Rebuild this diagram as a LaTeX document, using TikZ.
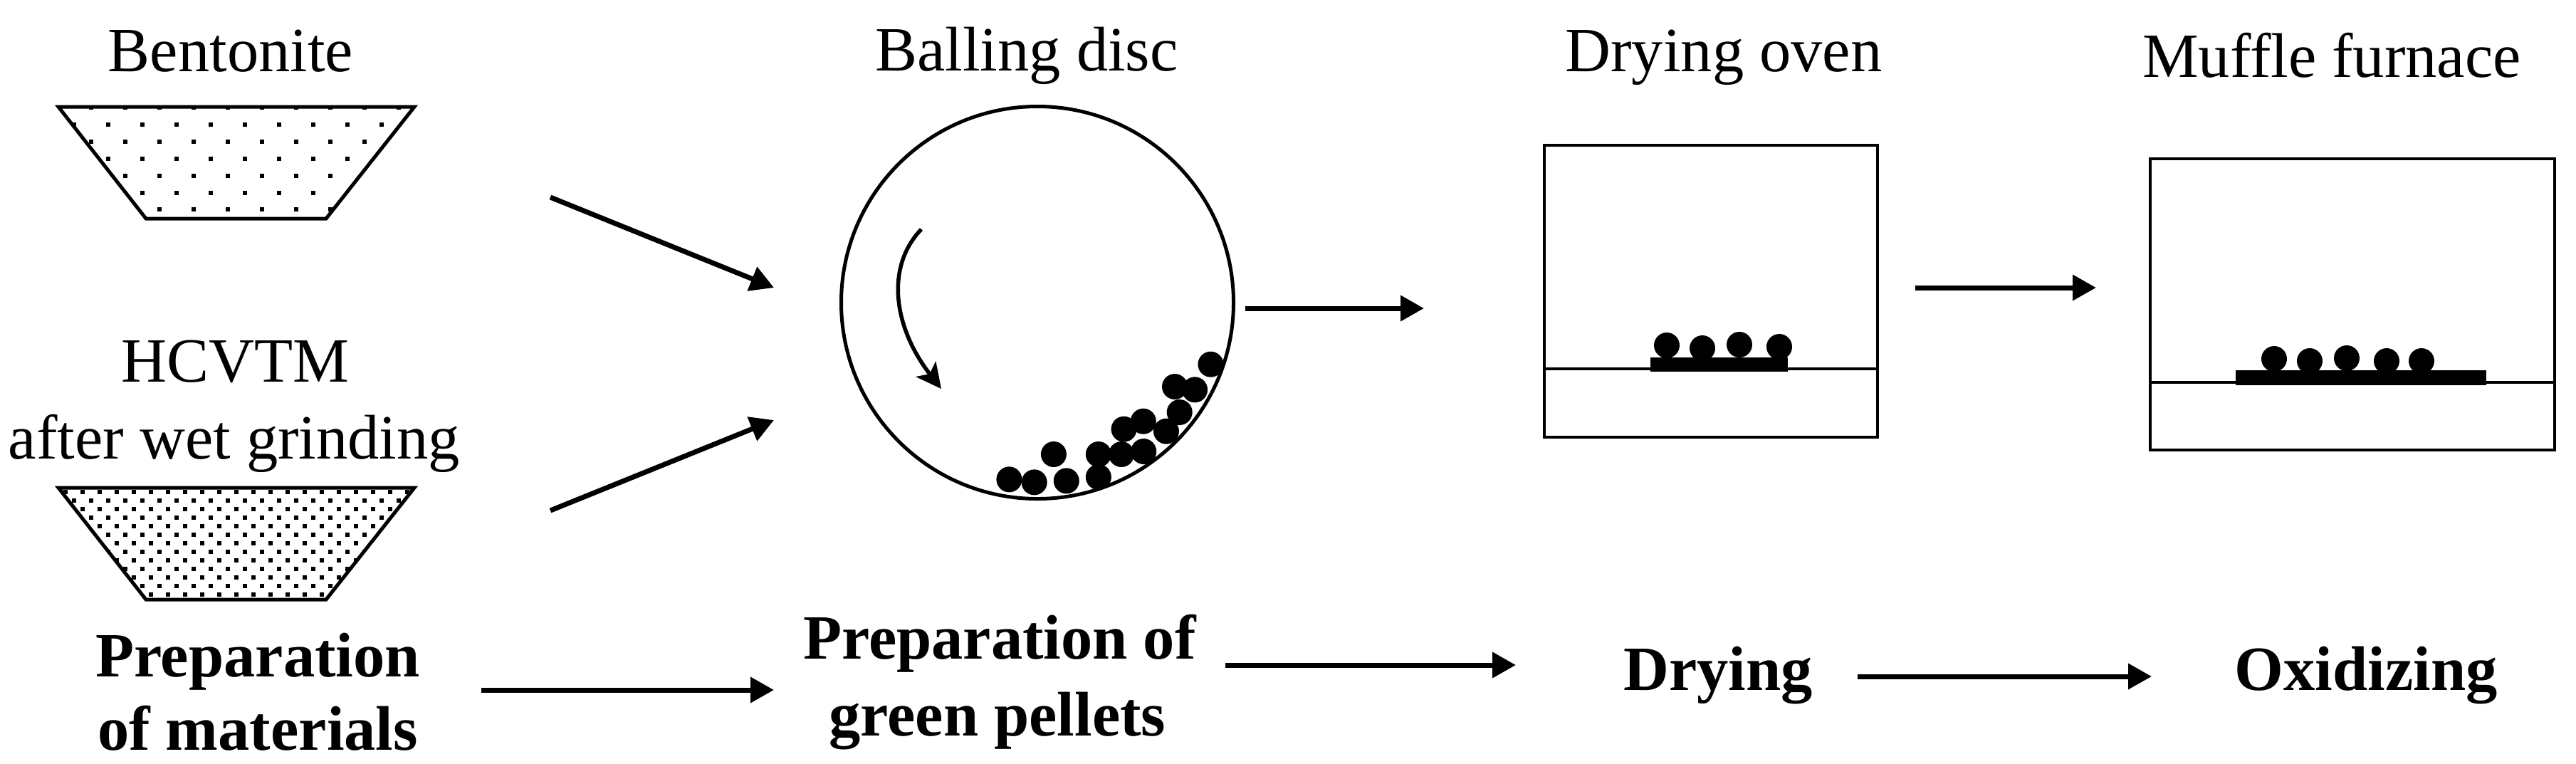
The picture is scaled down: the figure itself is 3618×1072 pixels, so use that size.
\documentclass[tikz,border=0pt]{standalone}
\usepackage{fontspec}
\setmainfont{Liberation Serif}
\usetikzlibrary{arrows.meta}
\tikzset{
  lbl/.style={anchor=base,inner sep=0pt,font=\fontsize{17.7pt}{20pt}\selectfont},
  blbl/.style={lbl,font=\fontsize{17.7pt}{20pt}\selectfont\bfseries},
  flow/.style={line width=1.4pt,-{Triangle[length=6.6pt,width=7pt]}},
  turn/.style={line width=1.1pt,-{Stealth[length=7pt,width=7pt,inset=1.7pt]}},
  vessel/.style={line width=1pt,line join=miter},
  outl/.style={line width=0.9pt},
  pellet/.style={fill=black,draw=none},
}
\begin{document}
\begin{tikzpicture}[x=0.2pt,y=-0.2pt]
\useasboundingbox (0,0) rectangle (3618,1072);
% labels
\node[lbl] (bent) at (324,100) {Bentonite};
\node[lbl] (hcv) at (330,536) {HCVTM};
\node[lbl] (wet) at (329,644) {after wet grinding};
\node[lbl] (disc) at (1442,99) {Balling disc};
\node[lbl] (oven) at (2421,100) {Drying oven};
\node[lbl] (muff) at (3275,108) {Muffle furnace};
\node[blbl] (pm1) at (362,950) {Preparation};
\node[blbl] (pm2) at (362,1053) {of materials};
\node[blbl] (pg1) at (1404,925) {Preparation of};
\node[blbl] (pg2) at (1401,1033) {green pellets};
\node[blbl] (dry) at (2413,969) {Drying};
\node[blbl] (oxi) at (3323,969) {Oxidizing};
% trapezoids
\begin{scope}
\clip (82,150) -- (582,150) -- (458,307) -- (205,307) -- cycle;
\foreach \r in {0,...,6}{
  \pgfmathsetmacro{\yy}{151+23.9*\r}
  \pgfmathsetmacro{\xo}{mod(\r,2)==0 ? 128 : 104}
  \foreach \c in {0,...,9}{
    \fill ({\xo+48*\c-3},{\yy-3}) rectangle +(6,6);
  }
}
\end{scope}
\draw[vessel] (82,150) -- (582,150) -- (458,307) -- (205,307) -- cycle;
\begin{scope}
\clip (82,685) -- (582,685) -- (458,842) -- (205,842) -- cycle;
\foreach \r in {0,...,12}{
  \pgfmathsetmacro{\yy}{690.7+12*\r}
  \pgfmathsetmacro{\xo}{mod(\r,2)==0 ? 92 : 104}
  \foreach \c in {0,...,20}{
    \fill ({\xo+24*\c-3},{\yy-3}) rectangle +(6,6);
  }
}
\end{scope}
\draw[vessel] (82,685) -- (582,685) -- (458,842) -- (205,842) -- cycle;
% disc
\draw[vessel] (1457,425) circle[radius=55.1pt];
\foreach \X/\Y in {711/1270,790/1282,891/1276,851/1164,992/1260,992/1164,1064/1164,1134/1152,1072/1058,1133/1025,1205/1067,1247/987,1232/879,1295/892,1345/785}{
  \fill[pellet] ({1100+\X/2.24},{250+\Y/3}) circle[radius=3.6pt];
}
\coordinate (rs) at (1294,322);
\coordinate (re) at (1322,546);
\draw[turn] (rs) .. controls (1243,375) and (1255,460) .. (re);
% ovens
\draw[outl] (2169,204) rectangle (2637,614);
\draw[outl] (2169,518) -- (2637,518);
\fill (2318,502) rectangle (2511,522);
\foreach \x/\y in {2341/485,2391/489,2443/484,2499/487}{
  \fill[pellet] (\x,\y) circle[radius=3.6pt];
}
\draw[outl] (3020,223) rectangle (3588,632);
\draw[outl] (3020,537) -- (3588,537);
\fill (3140,520) rectangle (3492,541);
\foreach \x/\y in {3194/504,3244/507,3296/503,3352/507,3401/507}{
  \fill[pellet] (\x,\y) circle[radius=3.6pt];
}
% arrows
\coordinate (a1s) at (773,277);  \coordinate (a1e) at (1087,404);
\coordinate (a2s) at (773,717);  \coordinate (a2e) at (1087,590);
\coordinate (a3s) at (1749,433); \coordinate (a3e) at (2000,433);
\coordinate (a4s) at (2690,404); \coordinate (a4e) at (2944,404);
\coordinate (b1s) at (676,969);  \coordinate (b1e) at (1087,969);
\coordinate (b2s) at (1721,934); \coordinate (b2e) at (2129,934);
\coordinate (b3s) at (2609,950); \coordinate (b3e) at (3022,950);
\draw[flow] (a1s) -- (a1e);
\draw[flow] (a2s) -- (a2e);
\draw[flow] (a3s) -- (a3e);
\draw[flow] (a4s) -- (a4e);
\draw[flow] (b1s) -- (b1e);
\draw[flow] (b2s) -- (b2e);
\draw[flow] (b3s) -- (b3e);
\end{tikzpicture}
\end{document}
